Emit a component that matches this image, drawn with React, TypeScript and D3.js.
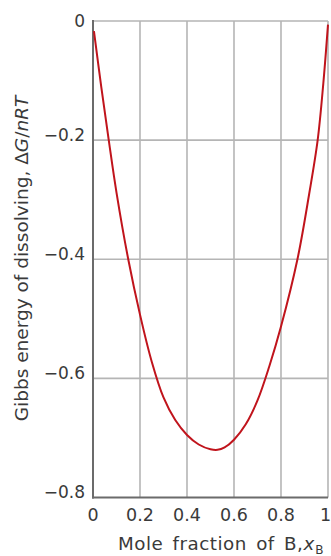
import React from "react";
import * as d3 from "d3";

const xTicks = [0, 0.2, 0.4, 0.6, 0.8, 1];
const yTicks = [0, -0.2, -0.4, -0.6, -0.8];
const xTickLabels = ["0", "0.2", "0.4", "0.6", "0.8", "1"];
const yTickLabels = ["0", "\u22120.2", "\u22120.4", "\u22120.6", "\u22120.8"];

const moleFraction = [0.004, 0.035, 0.067, 0.1, 0.15, 0.2, 0.25, 0.3, 0.35, 0.4, 0.45, 0.5, 0.53, 0.56, 0.6, 0.65, 0.7, 0.75, 0.8, 0.87, 0.92, 0.956, 0.98, 1.0];
const gibbs = [-0.017, -0.11, -0.2, -0.288, -0.4, -0.493, -0.572, -0.632, -0.67, -0.695, -0.711, -0.719, -0.72, -0.716, -0.703, -0.677, -0.637, -0.58, -0.513, -0.4, -0.29, -0.2, -0.105, -0.006];

const W = 331, H = 556;
const L = 93, R = 328, T = 21, B = 497.5;

export default function App() {
  const x = d3.scaleLinear().domain([0, 1]).range([L, R]);
  const y = d3.scaleLinear().domain([-0.8, 0]).range([B, T]);
  const pts = moleFraction.map((m, i) => [m, gibbs[i]] as [number, number]);
  const line = d3.line<[number, number]>().x(d => x(d[0])).y(d => y(d[1])).curve(d3.curveCatmullRom.alpha(0.5));
  const font = "'DejaVu Sans', sans-serif";
  const txt = "#3a3a3a";
  return (
    <svg width={W} height={H} style={{ position: "absolute", left: 0, top: 0 }} fontFamily={font}>
      {xTicks.filter(t => t > 0).map(t => (
        <line key={"vx" + t} x1={x(t)} x2={x(t)} y1={T} y2={B} stroke="#b5b5b5" strokeWidth={1.6} />
      ))}
      {yTicks.filter(t => t > -0.8).map(t => (
        <line key={"hy" + t} x1={L} x2={R} y1={y(t)} y2={y(t)} stroke="#b5b5b5" strokeWidth={1.6} />
      ))}
      <line x1={L} x2={L} y1={T - 1} y2={B + 1} stroke="#6b6b6b" strokeWidth={2} />
      <line x1={L - 1} x2={R} y1={B} y2={B} stroke="#6b6b6b" strokeWidth={2} />
      <path d={line(pts) || ""} fill="none" stroke="#c0141c" strokeWidth={2} />
      {yTicks.map((t, i) => (
        <text key={"yl" + t} x={85} y={y(t)} dy={t === 0 ? "0.36em" : "0.05em"} textAnchor="end" fontSize={17} fill={txt}>{yTickLabels[i]}</text>
      ))}
      {xTicks.map((t, i) => (
        <text key={"xl" + t} x={x(t)} dx={t === 1 ? -2.5 : 0} y={521} textAnchor="middle" fontSize={17.5} fill={txt}>{xTickLabels[i]}</text>
      ))}
      <text x={118} y={550} fontSize={18.3} fill={txt} letterSpacing={0.5} wordSpacing={3}>
        Mole fraction of B,<tspan fontStyle="italic">x</tspan><tspan fontSize={12} dx={0.5} dy={4}>B</tspan>
      </text>
      <text transform={`translate(27.5,258.5) rotate(-90)`} textAnchor="middle" fontSize={18.5} fill={txt}>
        Gibbs energy of dissolving, Δ<tspan fontStyle="italic">G</tspan>/<tspan fontStyle="italic">nRT</tspan>
      </text>
    </svg>
  );
}
